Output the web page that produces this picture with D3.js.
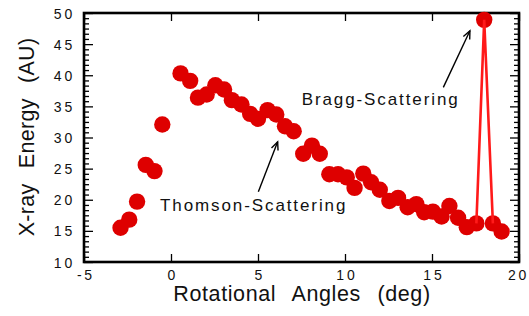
<!DOCTYPE html>
<html>
<head>
<meta charset="utf-8">
<script src="https://cdn.jsdelivr.net/npm/d3@7"></script>
<style>
  body { margin: 0; background: #fff; }
  svg { display: block; font-family: "Liberation Sans", Arial, sans-serif; }
</style>
</head>
<body>
<svg></svg>
<script>
const svgWidth = 529;
const svgHeight = 316;
const margin = {top: 13, right: 10, bottom: 54, left: 84};

// measured points
const angles = [-2.9, -2.4, -1.95, -1.45, -0.95, -0.5, 0.55, 1.1, 1.55, 2.05, 2.55, 3.05, 3.5, 4.05, 4.55, 5.0,
	5.55, 6.05, 6.55, 7.05, 7.6, 8.1, 8.55, 9.1, 9.6, 10.1, 10.55, 11.05, 11.5, 12.0, 12.55, 13.05,
	13.6, 14.1, 14.55, 15.05, 15.55, 16.0, 16.5, 17.0, 17.55, 18.0, 18.5, 19.0];
const energy = [15.5, 16.8, 19.7, 25.6, 24.6, 32.1, 40.3, 39.1, 36.4, 36.9, 38.4, 37.7, 36.0, 35.3, 33.8, 33.0,
	34.4, 33.7, 31.8, 31.0, 27.4, 28.7, 27.4, 24.1, 24.1, 23.6, 21.9, 24.2, 22.8, 21.6, 19.8, 20.3,
	18.8, 19.3, 18.0, 18.1, 17.3, 19.0, 17.1, 15.6, 16.2, 48.9, 16.2, 14.9];
// the peak is joined by a line
const peakAngles = [17.55, 18.0, 18.5];
const peakEnergy = [16.2, 48.9, 16.2];

const xTicks = [-5, 0, 5, 10, 15, 20];
const yTicks = [10, 15, 20, 25, 30, 35, 40, 45, 50];

const points = angles.map((a, i) => ({x: a, y: energy[i]}));
const peak = peakAngles.map((a, i) => ({x: a, y: peakEnergy[i]}));

const svg = d3.select("svg")
	.attr("width", svgWidth)
	.attr("height", svgHeight);

const xScale = d3.scaleLinear()
	.domain([-5, 20])
	.range([margin.left, svgWidth - margin.right]);
const yScale = d3.scaleLinear()
	.domain([10, 50])
	.range([svgHeight - margin.bottom, margin.top]);

// minor y ticks, 6 per major step
const yMinor = d3.range(0, 49).map(i => 10 + i * 5 / 6).filter(v => Math.abs(v - Math.round(v / 5) * 5) > 0.01);

function styleAxis(g, fontSize) {
	g.select(".domain").remove();
	g.selectAll(".tick line").attr("stroke", "#000").attr("stroke-width", 1.3);
	g.selectAll(".tick text")
		.attr("fill", "#111")
		.attr("font-size", fontSize)
		.attr("letter-spacing", "2.8px")
		.attr("font-family", "Liberation Sans, Arial, sans-serif");
}

// left
svg.append("g")
	.attr("transform", `translate(${margin.left},0)`)
	.call(d3.axisLeft(yScale).tickValues(yTicks).tickSize(-9).tickPadding(9))
	.call(g => styleAxis(g, 14))
	.call(g => g.selectAll(".tick text").attr("dy", "0.36em"));
svg.append("g")
	.attr("transform", `translate(${margin.left},0)`)
	.call(d3.axisLeft(yScale).tickValues(yMinor).tickSize(-5).tickFormat(""))
	.call(g => styleAxis(g, 14));

// right
svg.append("g")
	.attr("transform", `translate(${svgWidth - margin.right},0)`)
	.call(d3.axisRight(yScale).tickValues(yTicks).tickSize(-9).tickFormat(""))
	.call(g => styleAxis(g, 14));
svg.append("g")
	.attr("transform", `translate(${svgWidth - margin.right},0)`)
	.call(d3.axisRight(yScale).tickValues(yMinor).tickSize(-5).tickFormat(""))
	.call(g => styleAxis(g, 14));

// bottom
svg.append("g")
	.attr("transform", `translate(0,${svgHeight - margin.bottom})`)
	.call(d3.axisBottom(xScale).tickValues(xTicks).tickSize(-8).tickPadding(8).tickFormat(d => d < 0 ? "-" + Math.abs(d) : d))
	.call(g => styleAxis(g, 14))
	.call(g => g.selectAll(".tick text").attr("dx", d => d === 20 ? "-1px" : "1.4px"));

// top
svg.append("g")
	.attr("transform", `translate(0,${margin.top})`)
	.call(d3.axisTop(xScale).tickValues(xTicks).tickSize(-8).tickFormat(""))
	.call(g => styleAxis(g, 14));

// frame
svg.append("rect")
	.attr("x", margin.left)
	.attr("y", margin.top)
	.attr("width", svgWidth - margin.left - margin.right)
	.attr("height", svgHeight - margin.top - margin.bottom)
	.attr("fill", "none")
	.attr("stroke", "#000")
	.attr("stroke-width", 2.6);

// Data points
svg.append("g")
	.selectAll("circle")
	.data(points)
	.enter()
	.append("circle")
		.attr("cx", d => xScale(d.x))
		.attr("cy", d => yScale(d.y))
		.attr("r", 8.2)
		.attr("fill", "#de0000");

svg.append("path")
	.datum(peak)
	.attr("fill", "none")
	.attr("stroke", "#ff1a1a")
	.attr("stroke-width", 2.6)
	.attr("d", d3.line().x(d => xScale(d.x)).y(d => yScale(d.y)));

// arrows
svg.append("defs")
	.append("marker")
	.attr("id", "head")
	.attr("viewBox", "-10 -6 12 12")
	.attr("markerWidth", 12)
	.attr("markerHeight", 12)
	.attr("markerUnits", "userSpaceOnUse")
	.attr("orient", "auto")
	.append("path")
		.attr("d", "M-8,-3.5L0,0L-8,3.5")
		.attr("fill", "none")
		.attr("stroke", "#000")
		.attr("stroke-width", 1.4);

const notes = [
	{text: "Thomson-Scattering", tx: -0.63, ty: 18.17, from: [5.02, 21.3], to: [6.13, 29.3]},
	{text: "Bragg-Scattering", tx: 7.51, ty: 35.2, from: [15.65, 38.05], to: [17.18, 47.15]}
];

notes.forEach(n => {
	svg.append("line")
		.attr("x1", xScale(n.from[0]))
		.attr("y1", yScale(n.from[1]))
		.attr("x2", xScale(n.to[0]))
		.attr("y2", yScale(n.to[1]))
		.attr("stroke", "#000")
		.attr("stroke-width", 1.4)
		.attr("marker-end", "url(#head)");
	svg.append("text")
		.text(n.text)
		.attr("x", xScale(n.tx))
		.attr("y", yScale(n.ty))
		.attr("font-size", 17)
		.attr("letter-spacing", "1.9px")
		.attr("fill", "#111");
});

// Axes labels
svg.append("text")
	.text("Rotational Angles (deg)")
	.attr("x", 302)
	.attr("y", 301)
	.attr("font-size", 21.5)
	.attr("letter-spacing", "0.6px")
	.attr("word-spacing", "10px")
	.attr("text-anchor", "middle")
	.attr("fill", "#111");

svg.append("text")
	.text("X-ray Energy (AU)")
	.attr("transform", "rotate(-90)")
	.attr("x", -137)
	.attr("y", 34)
	.attr("font-size", 21.5)
	.attr("letter-spacing", "0.3px")
	.attr("word-spacing", "9px")
	.attr("text-anchor", "middle")
	.attr("fill", "#111");
</script>
</body>
</html>
